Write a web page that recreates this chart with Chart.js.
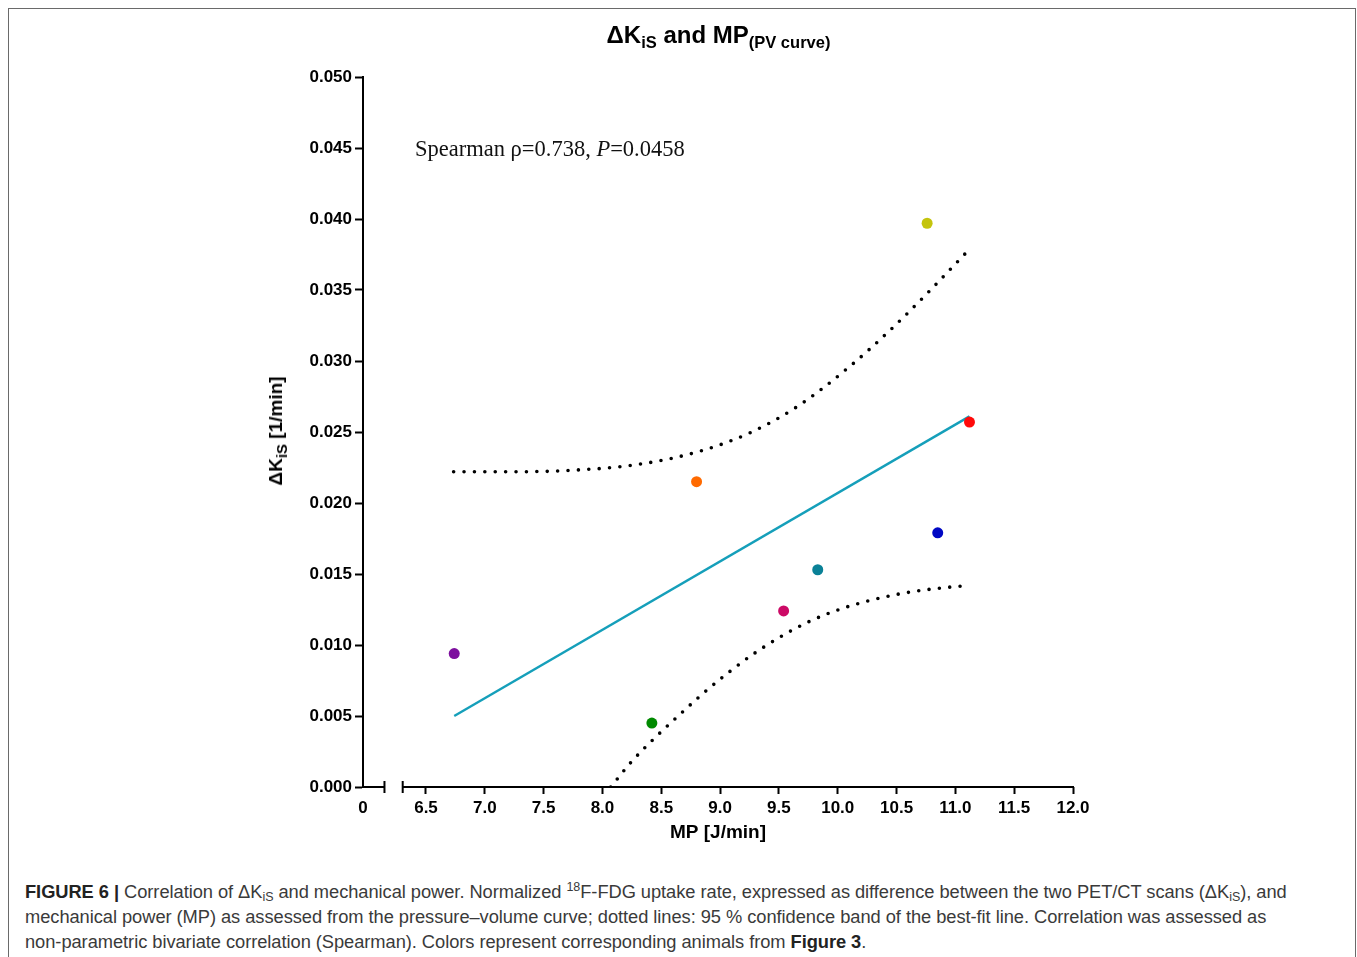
<!DOCTYPE html>
<html>
<head>
<meta charset="utf-8">
<script src="https://cdn.jsdelivr.net/npm/chart.js@4.4.0/dist/chart.umd.min.js"></script>
<style>
	body { margin: 0; background: #fff; width: 1357px; height: 957px; overflow: hidden; position: relative; font-family: "Liberation Sans", Arial, sans-serif; }
	#frame { position: absolute; left: 8px; top: 8px; width: 1346px; height: 1000px; border: 1.5px solid #6a6a6a; border-bottom: none; }
	#chart-box { position: absolute; left: 0; top: 0; width: 1357px; height: 860px; }
	#chart-title { position: absolute; left: 0; width: 1437px; top: 21px; text-align: center; font-weight: bold; font-size: 24px; color: #000; }
	#chart-title sub, #y-title sub { font-size: 16.5px; vertical-align: -5px; line-height: 0; }
	#y-title sub { font-size: 15px; }
	#y-title { position: absolute; left: 276px; top: 431px; transform: translate(-50%, -50%) rotate(-90deg); white-space: nowrap; font-weight: bold; font-size: 19px; }
	#stats { position: absolute; left: 415px; top: 136px; font-family: "Liberation Serif", "Times New Roman", serif; font-size: 22.5px; color: #111; white-space: nowrap; }
	#caption { position: absolute; left: 25px; top: 879px; font-size: 18.3px; line-height: 25px; color: #3a3a3a; white-space: nowrap; letter-spacing: -0.05px; }
	#caption sub { font-size: 12.5px; vertical-align: -3px; line-height: 0; }
	#caption sup { font-size: 12.5px; vertical-align: 7px; line-height: 0; }
	#caption b { color: #222; }
</style>
</head>
<body>
<div id="frame"></div>
<div id="chart-box"><canvas id="myChart" width="1357" height="860"></canvas></div>
<div id="chart-title">&Delta;K<sub>iS</sub> and MP<sub>(PV curve)</sub></div>
<div id="y-title">&Delta;K<sub>iS</sub> [1/min]</div>
<div id="stats">Spearman &rho;=0.738, <i>P</i>=0.0458</div>
<div id="caption"><b>FIGURE 6 |</b> Correlation of &Delta;K<sub>iS</sub> and mechanical power. Normalized <sup>18</sup>F-FDG uptake rate, expressed as difference between the two PET/CT scans (&Delta;K<sub>iS</sub>), and<br>mechanical power (MP) as assessed from the pressure&ndash;volume curve; dotted lines: 95 % confidence band of the best-fit line. Correlation was assessed as<br>non-parametric bivariate correlation (Spearman). Colors represent corresponding animals from <b>Figure 3</b>.</div>

<script>
// measured animals
var mpValues = [6.74, 8.42, 8.80, 9.54, 9.83, 10.76, 10.85, 11.12];
var kisValues = [0.0094, 0.0045, 0.0215, 0.0124, 0.0153, 0.0397, 0.0179, 0.0257];
var animalColors = ['#7d0f9e', '#008a00', '#ff6a00', '#cc0a66', '#0a8197', '#c4c40c', '#0008c4', '#ff0a0a'];

// best-fit line
var fitX = [6.74, 11.12];
var fitY = [0.0050, 0.0261];

// 95 % confidence band
var upperBandX = [6.735, 7.20, 7.656, 8.29, 8.834, 9.263, 9.663, 10.10, 10.44, 10.77, 11.10];
var upperBandY = [0.0222, 0.0222, 0.02227, 0.0227, 0.02366, 0.02498, 0.02683, 0.0296, 0.03213, 0.03484, 0.0377];
var lowerBandX = [8.07, 8.245, 8.435, 8.64, 8.843, 9.056, 9.277, 9.51, 9.754, 10.009, 10.27, 10.54, 10.81, 11.10];
var lowerBandY = [0, 0.00176, 0.00338, 0.00497, 0.0065, 0.00796, 0.00933, 0.01056, 0.01164, 0.01249, 0.01313, 0.01362, 0.01395, 0.01419];

// axes (x axis is broken: "0" then 6.5 ... 12.0)
var xMin = 5.9645;
var xMax = 12.0;
var xTickValues = [5.9645, 6.5, 7.0, 7.5, 8.0, 8.5, 9.0, 9.5, 10.0, 10.5, 11.0, 11.5, 12.0];
var xTickLabels = ['0', '6.5', '7.0', '7.5', '8.0', '8.5', '9.0', '9.5', '10.0', '10.5', '11.0', '11.5', '12.0'];
var xBreak = [6.147, 6.302];
var yTickValues = [0, 0.005, 0.010, 0.015, 0.020, 0.025, 0.030, 0.035, 0.040, 0.045, 0.050];
var yTickLabels = ['0.000', '0.005', '0.010', '0.015', '0.020', '0.025', '0.030', '0.035', '0.040', '0.045', '0.050'];

function toPoints(xs, ys) {
	var pts = [];
	for (var i = 0; i < xs.length; i++) {
		pts.push({ x: xs[i], y: ys[i] });
	}
	return pts;
}

// draws the x axis line with its break marks
var brokenAxis = {
	id: 'brokenAxis',
	afterDatasetsDraw: function(chart) {
		var ctx = chart.ctx;
		var xs = chart.scales.x;
		var y = chart.chartArea.bottom;
		var p0 = xs.getPixelForValue(xMin);
		var p1 = xs.getPixelForValue(xBreak[0]);
		var p2 = xs.getPixelForValue(xBreak[1]);
		var p3 = xs.getPixelForValue(xMax);
		ctx.save();
		ctx.strokeStyle = '#000';
		ctx.lineWidth = 2;
		ctx.beginPath();
		ctx.moveTo(p0 - 1, y);
		ctx.lineTo(p1, y);
		ctx.moveTo(p1, y - 6);
		ctx.lineTo(p1, y + 6);
		ctx.moveTo(p2, y - 6);
		ctx.lineTo(p2, y + 6);
		ctx.moveTo(p2, y);
		ctx.lineTo(p3 + 1, y);
		ctx.stroke();
		ctx.restore();
	}
};

var dotted = {
	borderColor: '#000',
	borderWidth: 3.6,
	borderDash: [0, 10.4],
	borderCapStyle: 'round',
	pointRadius: 0,
	showLine: true,
	fill: false,
	cubicInterpolationMode: 'monotone'
};

var ctx = document.getElementById('myChart').getContext('2d');
var chart = new Chart(ctx, {
	type: 'scatter',
	data: {
		datasets: [{
			label: 'animals',
			data: toPoints(mpValues, kisValues),
			backgroundColor: animalColors,
			borderWidth: 0,
			pointRadius: 5.5,
			pointHoverRadius: 5.5
		}, {
			label: 'fit',
			data: toPoints(fitX, fitY),
			showLine: true,
			borderColor: '#159fba',
			borderWidth: 2.4,
			pointRadius: 0
		}, Object.assign({ label: 'upper', data: toPoints(upperBandX, upperBandY) }, dotted),
		Object.assign({ label: 'lower', data: toPoints(lowerBandX, lowerBandY) }, dotted)]
	},
	options: {
		responsive: false,
		animation: false,
		layout: { padding: { left: 0, right: 284, top: 77, bottom: 0 } },
		plugins: {
			legend: { display: false },
			tooltip: { enabled: false }
		},
		scales: {
			x: {
				type: 'linear',
				min: xMin,
				max: xMax,
				afterBuildTicks: function(scale) {
					scale.ticks = xTickValues.map(function(v) { return { value: v }; });
				},
				afterFit: function(scale) { scale.height = 73; },
				ticks: {
					autoSkip: false,
					maxRotation: 0,
					padding: 4,
					color: '#000',
					font: { family: 'Liberation Sans', size: 17, weight: 'bold' },
					callback: function(value, index) { return xTickLabels[index]; }
				},
				grid: {
					drawOnChartArea: false,
					tickLength: 7,
					tickWidth: 2,
					tickColor: function(c) { return c.index === 0 ? 'rgba(0,0,0,0)' : '#000'; }
				},
				border: { display: false },
				title: {
					display: true,
					text: 'MP [J/min]',
					color: '#000',
					font: { family: 'Liberation Sans', size: 19, weight: 'bold' },
					padding: { top: 0, bottom: 16 }
				}
			},
			y: {
				min: 0,
				max: 0.05,
				afterBuildTicks: function(scale) {
					scale.ticks = yTickValues.map(function(v) { return { value: v }; });
				},
				afterFit: function(scale) { scale.width = 363; },
				ticks: {
					autoSkip: false,
					padding: 3,
					color: '#000',
					font: { family: 'Liberation Sans', size: 17, weight: 'bold' },
					callback: function(value, index) { return yTickLabels[index]; }
				},
				grid: {
					drawOnChartArea: false,
					tickLength: 8,
					tickWidth: 2,
					tickColor: '#000'
				},
				border: { display: true, color: '#000', width: 2 }
			}
		}
	},
	plugins: [brokenAxis]
});
</script>
</body>
</html>
